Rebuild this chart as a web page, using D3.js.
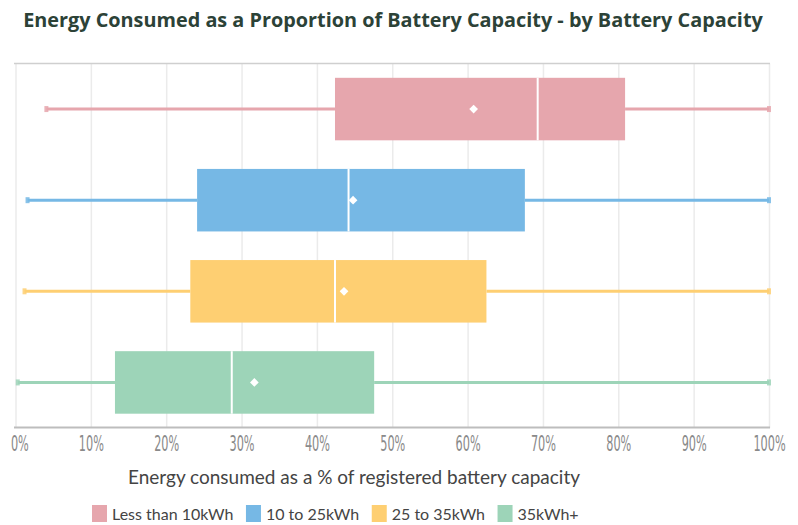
<!DOCTYPE html>
<html>
<head>
<meta charset="utf-8">
<script src="https://cdn.jsdelivr.net/npm/d3@7"></script>
<style>
  body { margin: 0; background: #fff; }
  svg { display: block; }
</style>
</head>
<body>
<svg id="chart" width="798" height="525"></svg>
<script>
// box plot stats (percent of battery capacity)
const categories = ['Less than 10kWh', '10 to 25kWh', '25 to 35kWh', '35kWh+'];
const mins = [4.1, 1.6, 1.2, 0.3];
const q1s = [42.4, 24.1, 23.2, 13.2];
const medians = [69.3, 44.2, 42.4, 28.7];
const means = [60.8, 44.8, 43.6, 31.7];
const q3s = [80.9, 67.6, 62.5, 47.6];
const maxs = [100, 100, 100, 100];
const tickValues = [0, 10, 20, 30, 40, 50, 60, 70, 80, 90, 100];
const colors = ['#e6a6ad', '#76b8e5', '#fecf72', '#9dd4b8'];

const rows = categories.map((c, i) => ({
    cat: c, min: mins[i], q1: q1s[i], med: medians[i], mean: means[i], q3: q3s[i], max: maxs[i], color: colors[i]
}));

const svg = d3.select('#chart');
const plotTop = 63.5, plotBottom = 428;

const x = d3.scaleLinear().domain([0, 100]).range([15.5, 769]);
const y = d3.scaleBand().domain(categories).range([plotTop, plotBottom]).padding(0);
const boxH = y.bandwidth() * 0.686;

// shrink/grow font so text spans roughly the same width as the original
function fitWidth(sel, target) {
    const size = parseFloat(sel.style('font-size'));
    const w = sel.node().getComputedTextLength();
    sel.style('font-size', (size * target / w).toFixed(2) + 'px');
}

// title
const title = svg.append('text')
    .attr('x', 393)
    .attr('y', 27)
    .attr('text-anchor', 'middle')
    .style('font-family', '"Open Sans", sans-serif')
    .style('font-weight', 'bold')
    .style('font-size', '17px')
    .style('fill', '#2c4237')
    .text('Energy Consumed as a Proportion of Battery Capacity - by Battery Capacity');
fitWidth(title, 740);

// grid
svg.append('g')
    .attr('transform', `translate(0,${plotBottom})`)
    .call(d3.axisBottom(x).tickValues(tickValues).tickSize(-(plotBottom - plotTop)).tickFormat(''))
    .call(g => g.select('.domain').remove())
    .call(g => g.selectAll('line').attr('stroke', '#ebebeb').attr('stroke-width', 1.5));

// top border
svg.append('line')
    .attr('x1', 14).attr('x2', 770)
    .attr('y1', plotTop).attr('y2', plotTop)
    .attr('stroke', '#cfcfcf').attr('stroke-width', 1.5);

// x axis
const xAxis = svg.append('g')
    .attr('transform', `translate(0,${plotBottom - 0.5})`)
    .call(d3.axisBottom(x).tickValues(tickValues).tickSize(0).tickSizeOuter(0).tickFormat(d => d + '%'));
xAxis.select('.domain').attr('stroke', '#bdbdbd').attr('stroke-width', 2).attr('d', 'M14,0H770');
xAxis.selectAll('text')
    .attr('x', d => d === 0 ? 7 : 0)
    .attr('y', 24)
    .attr('dy', 0)
    .attr('transform', 'scale(0.55,1)')
    .style('font-family', '"DejaVu Sans", sans-serif')
    .style('font-size', '20.5px')
    .style('fill', '#8a8a8a');

// boxes
const g = svg.append('g');
rows.forEach(d => {
    const cy = y(d.cat) + y.bandwidth() / 2;
    // whiskers
    g.append('line')
        .attr('x1', x(d.min)).attr('x2', x(d.q1))
        .attr('y1', cy).attr('y2', cy)
        .attr('stroke', d.color).attr('stroke-width', 3);
    g.append('line')
        .attr('x1', x(d.q3)).attr('x2', x(d.max))
        .attr('y1', cy).attr('y2', cy)
        .attr('stroke', d.color).attr('stroke-width', 3);
    // caps
    [d.min, d.max].forEach(v => {
        g.append('rect')
            .attr('x', x(v) - 2).attr('y', cy - 3)
            .attr('width', 4).attr('height', 6)
            .attr('fill', d.color).attr('opacity', 0.85);
    });
    // box
    g.append('rect')
        .attr('x', x(d.q1))
        .attr('y', cy - boxH / 2)
        .attr('width', x(d.q3) - x(d.q1))
        .attr('height', boxH)
        .attr('fill', d.color);
    // median
    g.append('line')
        .attr('x1', x(d.med)).attr('x2', x(d.med))
        .attr('y1', cy - boxH / 2).attr('y2', cy + boxH / 2)
        .attr('stroke', '#fff').attr('stroke-width', 2);
    // mean
    g.append('path')
        .attr('d', d3.symbol(d3.symbolSquare, 38)())
        .attr('transform', `translate(${x(d.mean)},${cy}) rotate(45)`)
        .attr('fill', '#fff');
});

// x label
const xLabel = svg.append('text')
    .attr('x', 354)
    .attr('y', 484)
    .attr('text-anchor', 'middle')
    .style('font-family', 'Lato, sans-serif')
    .style('font-size', '18.5px')
    .style('fill', '#444')
    .text('Energy consumed as a % of registered battery capacity');
fitWidth(xLabel, 452);

// legend
const legend = svg.append('g').attr('transform', 'translate(92,505)');
let lx = 0;
rows.forEach(d => {
    const item = legend.append('g').attr('transform', `translate(${lx},0)`);
    item.append('rect').attr('width', 15).attr('height', 17).attr('fill', d.color);
    const t = item.append('text')
        .attr('x', 20).attr('y', 14.5)
        .style('font-family', 'Lato, sans-serif')
        .style('font-size', '16px')
        .style('fill', '#444')
        .text(d.cat);
    lx += 20 + t.node().getComputedTextLength() + 12.5;
});
</script>
</body>
</html>
